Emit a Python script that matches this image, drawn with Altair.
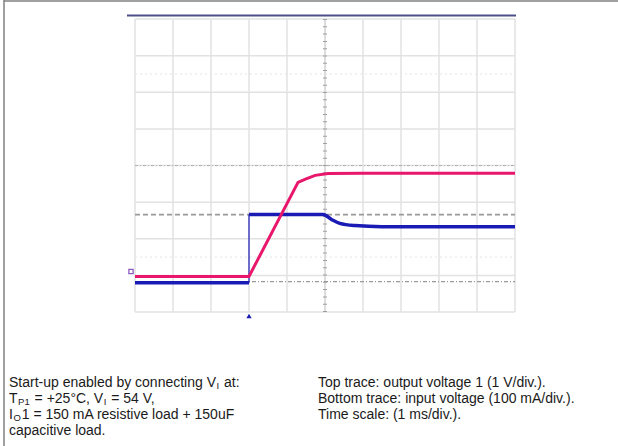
import altair as alt
import pandas as pd

# ---- data (time in ms, 1 ms/div; amplitude in screen divisions) ----
pink_t = [-5.0, -2.0, -0.71, -0.53, -0.26, 0.08, 1.0, 5.0]
pink_v = [-3.03, -3.03, -0.46, -0.38, -0.27, -0.22, -0.21, -0.21]

blue_lo_t = [-5.0, -2.0]
blue_lo_v = [-3.2, -3.2]
blue_hi_t = [-2.0, -0.05, 0.18, 0.39, 0.79, 1.5, 5.0]
blue_hi_v = [-1.34, -1.34, -1.48, -1.58, -1.64, -1.67, -1.67]

grid_t = [-5, -4, -3, -2, -1, 0, 1, 2, 3, 4, 5]
grid_v = [-4, -3, -2, -1, 0, 1, 2, 3, 4]
faint_v = [2.5, -2.5]
ref_dash_v = -1.34
ref_dashdot_v = -3.17
trigger_t = -2.0

left_lines = [
    [("Start-up enabled by connecting V", False), ("I", True), (" at:", False)],
    [("T", False), ("P1", True), (" = +25°C, V", False), ("I", True), (" = 54 V,", False)],
    [("I", False), ("O", True), ("1 = 150 mA resistive load + 150uF", False)],
    [("capacitive load.", False)],
]
right_lines = [
    "Top trace: output voltage 1 (1 V/div.).",
    "Bottom trace: input voltage (100 mA/div.).",
    "Time scale: (1 ms/div.).",
]

# ---- scales ----
xs = alt.Scale(domain=[-5, 5], range=[135, 515], nice=False, zero=False)
ys = alt.Scale(domain=[-4, 4], range=[312, 19], nice=False, zero=False)

GRID = "#e2e2e2"
PINK = "#e8176c"
BLUE = "#1a1ab4"

# ---- text layout helper (Helvetica/Arial advance widths) ----
W = {' ': 278, '!': 278, '(': 333, ')': 333, '+': 584, ',': 278, '-': 333, '.': 278, '/': 278,
     ':': 278, '=': 584, '°': 400}
for c in '0123456789':
    W[c] = 556
W.update(dict(A=667, B=667, C=722, D=722, E=667, F=611, G=778, H=722, I=278, J=500, K=667,
              L=556, M=833, N=722, O=778, P=667, Q=778, R=722, S=667, T=611, U=722, V=667,
              W=944, X=667, Y=667, Z=611))
W.update(dict(a=556, b=556, c=500, d=556, e=556, f=278, g=556, h=556, i=222, j=222, k=500,
              l=222, m=833, n=556, o=556, p=556, q=556, r=333, s=500, t=278, u=556, v=500,
              w=722, x=500, y=500, z=500))


def tw(s, fs):
    return sum(W.get(ch, 556) for ch in s) * fs / 1000.0


FS = 14
SUB = 9.5
rows = []
y0 = 383
for i, segs in enumerate(left_lines):
    x = 9.0
    y = y0 + 16 * i
    for txt, sub in segs:
        fs = SUB if sub else FS
        stripped = txt.lstrip(" ")
        lead = tw(txt[:len(txt) - len(stripped)], FS)
        rows.append(dict(px=x + lead, py=y + (3 if sub else 0), text=stripped, fs=fs))
        x += tw(txt, fs) + (1.0 if sub else 0.5)
for i, txt in enumerate(right_lines):
    rows.append(dict(px=318.0, py=y0 + 16 * i, text=txt, fs=FS))
text_df = pd.DataFrame(rows)

# ---- layers ----
gv = pd.DataFrame({"t": grid_t})
gh = pd.DataFrame({"v": grid_v})

vgrid = alt.Chart(gv).mark_rule(color=GRID, strokeWidth=1.5).encode(
    x=alt.X("t:Q", scale=xs, axis=None),
    y=alt.Y(datum=-4, scale=ys, axis=None), y2=alt.Y2(datum=4))
hgrid = alt.Chart(gh).mark_rule(color=GRID, strokeWidth=1.5).encode(
    y=alt.Y("v:Q", scale=ys, axis=None),
    x=alt.X(datum=-5, scale=xs, axis=None), x2=alt.X2(datum=5))

faint = alt.Chart(pd.DataFrame({"v": faint_v})).mark_rule(
    color="#e4e4e4", strokeWidth=1, strokeDash=[2, 3]).encode(
    y=alt.Y("v:Q", scale=ys, axis=None),
    x=alt.X(datum=-5, scale=xs, axis=None), x2=alt.X2(datum=5))

center_h = alt.Chart(pd.DataFrame({"v": [0]})).mark_rule(
    color="#b0b0b0", strokeWidth=1, strokeDash=[3, 2, 1, 2]).encode(
    y=alt.Y("v:Q", scale=ys, axis=None),
    x=alt.X(datum=-5, scale=xs, axis=None), x2=alt.X2(datum=5))
center_v = alt.Chart(pd.DataFrame({"t": [0]})).mark_rule(
    color="#cfcfcf", strokeWidth=1).encode(
    x=alt.X("t:Q", scale=xs, axis=None),
    y=alt.Y(datum=-4, scale=ys, axis=None), y2=alt.Y2(datum=4))
center_v_ticks = alt.Chart(pd.DataFrame({"t": [0]})).mark_rule(
    color="#a0a0a0", strokeWidth=4, strokeDash=[1, 6.3]).encode(
    x=alt.X("t:Q", scale=xs, axis=None),
    y=alt.Y(datum=-4, scale=ys, axis=None), y2=alt.Y2(datum=4))

ref_dash = alt.Chart(pd.DataFrame({"v": [ref_dash_v]})).mark_rule(
    color="#9a9a9a", strokeWidth=1.6, strokeDash=[5, 3]).encode(
    y=alt.Y("v:Q", scale=ys, axis=None),
    x=alt.X(datum=-5, scale=xs, axis=None), x2=alt.X2(datum=5))
ref_dashdot = alt.Chart(pd.DataFrame({"v": [ref_dashdot_v]})).mark_rule(
    color="#9a9a9a", strokeWidth=1.2, strokeDash=[4, 2, 1, 2]).encode(
    y=alt.Y("v:Q", scale=ys, axis=None),
    x=alt.X(datum=-5, scale=xs, axis=None), x2=alt.X2(datum=5))

blue_df = pd.DataFrame({
    "t": blue_lo_t + blue_hi_t,
    "v": blue_lo_v + blue_hi_v,
    "seg": ["lo"] * len(blue_lo_t) + ["hi"] * len(blue_hi_t),
    "o": list(range(len(blue_lo_t))) + list(range(len(blue_hi_t))),
})
blue = alt.Chart(blue_df).mark_line(color=BLUE, strokeWidth=3.5, interpolate="monotone").encode(
    x=alt.X("t:Q", scale=xs, axis=None),
    y=alt.Y("v:Q", scale=ys, axis=None),
    detail="seg:N", order="o:Q")
blue_step = alt.Chart(pd.DataFrame({"t": [trigger_t], "v1": [blue_lo_v[-1]], "v2": [blue_hi_v[0]]})).mark_rule(
    color=BLUE, strokeWidth=1.2).encode(
    x=alt.X("t:Q", scale=xs, axis=None),
    y=alt.Y("v1:Q", scale=ys, axis=None), y2="v2:Q")

pink_df = pd.DataFrame({"t": pink_t, "v": pink_v, "o": list(range(len(pink_t)))})
pink = alt.Chart(pink_df).mark_line(color=PINK, strokeWidth=3).encode(
    x=alt.X("t:Q", scale=xs, axis=None),
    y=alt.Y("v:Q", scale=ys, axis=None),
    order="o:Q")

trigger = alt.Chart(pd.DataFrame({"t": [trigger_t]})).mark_point(
    shape="triangle-up", filled=True, color=BLUE, size=28, opacity=1).encode(
    x=alt.X("t:Q", scale=xs, axis=None), y=alt.value(316))

ch_marker = alt.Chart(pd.DataFrame({"v": [pink_v[0]]})).mark_point(
    shape="square", filled=False, color="#8a5cc0", size=18, strokeWidth=1.3, opacity=1).encode(
    x=alt.value(131), y=alt.Y("v:Q", scale=ys, axis=None), yOffset=alt.value(-5))

frame_top = alt.Chart(pd.DataFrame({"a": [0]})).mark_rule(color="#808080", strokeWidth=1.5).encode(
    x=alt.value(4), x2=alt.value(618), y=alt.value(1))
frame_left = alt.Chart(pd.DataFrame({"a": [0]})).mark_rule(color="#808080", strokeWidth=1.5).encode(
    x=alt.value(4), y=alt.value(0), y2=alt.value(446))
scope_top = alt.Chart(pd.DataFrame({"a": [0]})).mark_rule(color="#4e4e8c", strokeWidth=2).encode(
    x=alt.value(127), x2=alt.value(516), y=alt.value(15.5))

texts = alt.Chart(text_df).mark_text(
    align="left", baseline="middle", font="Liberation Sans", color="#1a1a1a").encode(
    x=alt.X("px:Q", scale=None, axis=None),
    y=alt.Y("py:Q", scale=None, axis=None),
    size=alt.Size("fs:Q", scale=None, legend=None),
    text="text:N")

chart = alt.layer(
    vgrid, hgrid, faint, center_h, center_v, center_v_ticks, ref_dash, ref_dashdot,
    blue, blue_step, pink, trigger, ch_marker, frame_top, frame_left, scope_top, texts
).properties(
    width=618, height=446, padding=0, autosize="none", background="white"
).configure_view(stroke=None)

chart.save("out.html", embed_options={"renderer": "svg", "actions": False})
